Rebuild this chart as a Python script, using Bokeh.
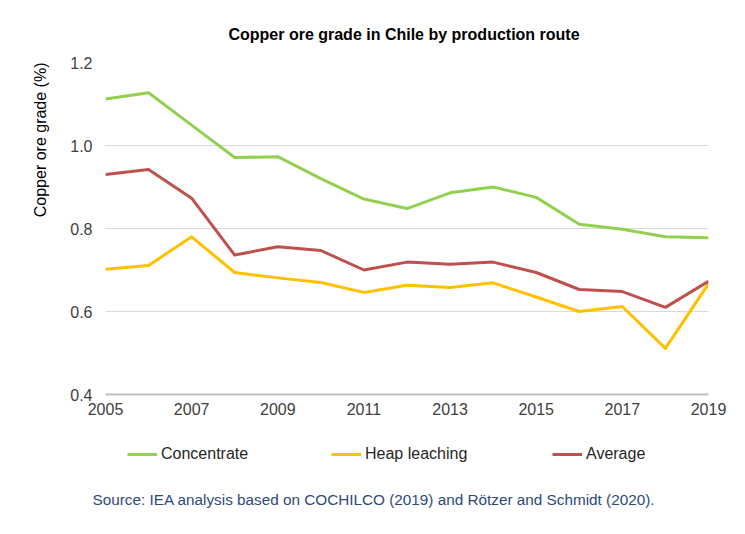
from bokeh.plotting import figure
from bokeh.layouts import column
from bokeh.models import (FixedTicker, Legend, LegendItem, Title, Label, PrintfTickFormatter,
                          ColumnDataSource, Range1d)
from bokeh.embed import file_html
from bokeh.resources import INLINE

years = list(range(2005, 2020))
concentrate = [1.112, 1.127, 1.049, 0.971, 0.973, 0.920, 0.871, 0.848, 0.886, 0.900,
               0.875, 0.810, 0.798, 0.780, 0.778]
heap_leaching = [0.702, 0.711, 0.780, 0.694, 0.681, 0.670, 0.646, 0.663, 0.658, 0.669,
                 0.635, 0.600, 0.612, 0.511, 0.667]
average = [0.930, 0.942, 0.873, 0.736, 0.756, 0.747, 0.700, 0.719, 0.714, 0.719,
           0.694, 0.653, 0.648, 0.610, 0.673]
series_names = ["Concentrate", "Heap leaching", "Average"]
series_colors = ["#92D050", "#FFC000", "#C0504D"]
x_ticks = [2005, 2007, 2009, 2011, 2013, 2015, 2017, 2019]
y_ticks = [0.4, 0.6, 0.8, 1.0, 1.2]

title_text = "Copper ore grade in Chile by production route"
y_label_text = "Copper ore grade (%)"
source_text = "Source: IEA analysis based on COCHILCO (2019) and Rötzer and Schmidt (2020)."

FONT = "Liberation Sans"
W = 737
L, R = 105, 708   # frame edges in page pixels (frames are aligned in the column)


def blank_fig(h, **kw):
    f = figure(width=W, height=h, x_range=Range1d(L, R), y_range=Range1d(0, 1),
               x_axis_type=None, y_axis_type=None,
               min_border_left=L, min_border_right=W - R,
               output_backend="svg", toolbar_location=None, **kw)
    f.outline_line_color = None
    f.xgrid.grid_line_color = None
    f.ygrid.grid_line_color = None
    return f


# ---- top strip with the title
top = blank_fig(50, min_border_top=0, min_border_bottom=0)
top.y_range = Range1d(0, 50)
top.add_layout(Label(x=403.5, y=16, text=title_text, text_font=FONT, text_font_size="16px",
                     text_font_style="bold", text_color="#000000",
                     text_align="center", text_baseline="middle"))

# ---- main chart
p = figure(frame_width=R - L, frame_height=332,
           min_border_left=L, min_border_right=W - R, min_border_top=12, min_border_bottom=26,
           x_range=Range1d(2005, 2019), y_range=Range1d(0.4, 1.2),
           output_backend="svg", toolbar_location=None)
p.outline_line_color = None

p.xaxis.ticker = FixedTicker(ticks=x_ticks)
p.yaxis.ticker = FixedTicker(ticks=y_ticks)
p.yaxis.formatter = PrintfTickFormatter(format="%.1f")
for ax in (p.xaxis[0], p.yaxis[0]):
    ax.major_tick_line_color = None
    ax.minor_tick_line_color = None
    ax.major_label_text_font = FONT
    ax.major_label_text_font_size = "16px"
    ax.major_label_text_color = "#404040"
p.xaxis.axis_line_color = "#BFBFBF"
p.xaxis.axis_line_width = 2
p.xaxis.major_label_standoff = 2
p.yaxis.axis_line_color = None
p.yaxis.major_label_standoff = 7

p.xgrid.grid_line_color = None
p.ygrid.grid_line_color = "#D9D9D9"
p.ygrid.grid_line_width = 1

src = ColumnDataSource(dict(x=years, c=concentrate, h=heap_leaching, a=average))
for col, color in zip(["c", "h", "a"], series_colors):
    p.line("x", col, source=src, line_color=color, line_width=3, line_join="round")

p.add_layout(Title(text=y_label_text, align="right", offset=0, text_font=FONT,
                   text_font_size="16px", text_font_style="normal", text_color="#000000",
                   standoff=37), "left")

# ---- bottom strip with legend and source
bot = blank_fig(106, min_border_top=0, min_border_bottom=40)
legend_x = [127 - L, 331 - L, 552 - L]
for name, col, color, lx in zip(series_names, ["c", "h", "a"], series_colors, legend_x):
    r = bot.line("x", col, source=src, line_color=color, line_width=3, visible=False)
    lg = Legend(items=[LegendItem(label=name, renderers=[r])], location=(lx, 22),
                orientation="horizontal", margin=0, padding=0,
                border_line_color=None, background_fill_alpha=0, inactive_fill_alpha=0,
                glyph_width=30, glyph_height=20, label_height=20, label_standoff=4,
                label_text_font=FONT, label_text_font_size="16px",
                label_text_color="#262626")
    bot.add_layout(lg, "center")
bot.add_layout(Title(text=source_text, align="left", offset=92 - L,
                     text_font=FONT, text_font_size="15.3px", text_font_style="normal",
                     text_color="#2F4A7A", standoff=4), "below")

layout = column(top, p, bot, spacing=0)
open("out.html", "w").write(file_html(layout, INLINE))
